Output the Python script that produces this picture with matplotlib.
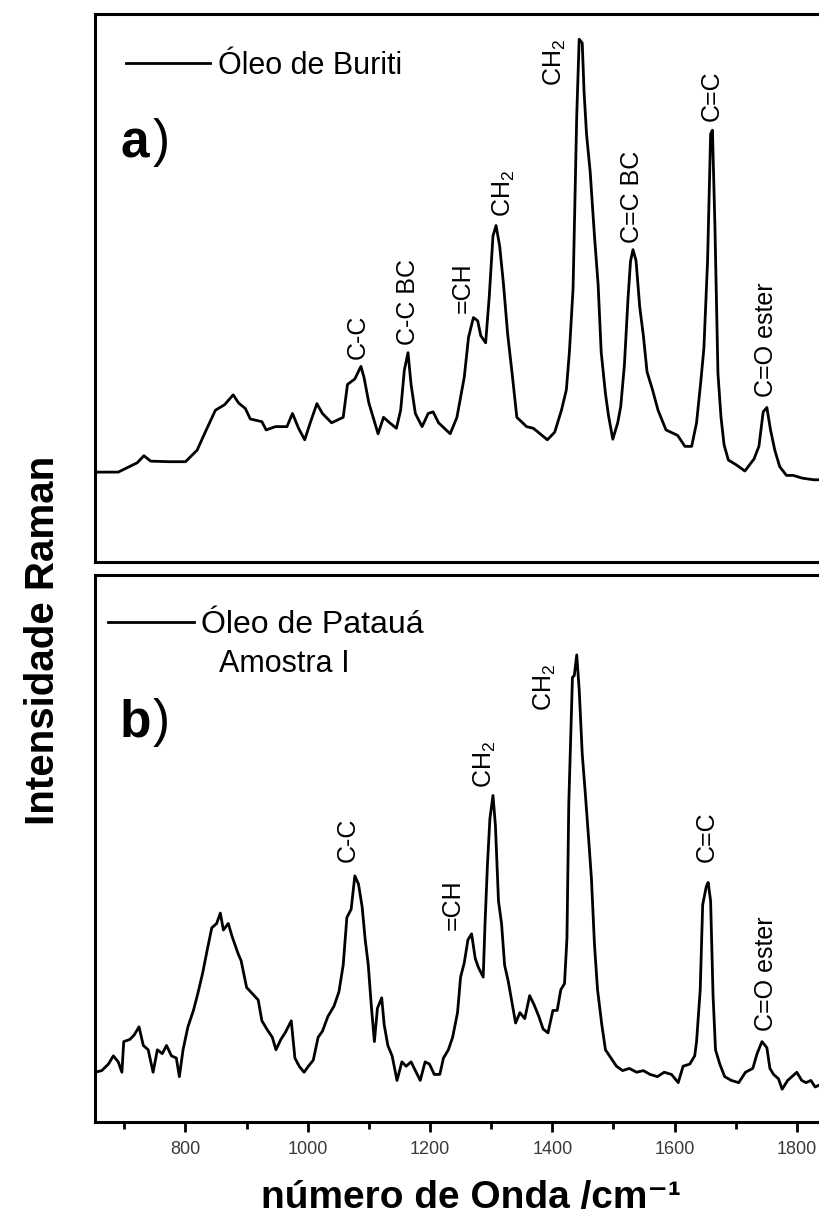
import matplotlib
matplotlib.use("Agg")
import matplotlib.pyplot as plt
from matplotlib.ticker import MultipleLocator

plt.rcParams['font.family'] = ['Liberation Sans', 'DejaVu Sans']
plt.rcParams['mathtext.fontset'] = 'custom'
plt.rcParams['mathtext.rm'] = 'Liberation Sans'

# Raman spectrum, Buriti oil (wavenumber in cm-1, intensity in a.u.)
wn_buriti = [652, 690, 721, 732, 743, 773, 800, 819, 834, 849, 864, 878, 887, 898, 906,
             925, 932, 947, 966, 975, 985, 995, 1005, 1015, 1024, 1039, 1058, 1065, 1077,
             1087, 1092, 1100, 1107, 1115, 1124, 1134, 1145, 1152, 1158, 1164, 1169, 1176,
             1187, 1197, 1205, 1214, 1233, 1244, 1256, 1263, 1271, 1278, 1283, 1291, 1297,
             1303, 1308, 1314, 1320, 1327, 1335, 1342, 1358, 1369, 1380, 1392, 1404, 1415,
             1423, 1428, 1434, 1440, 1444, 1449, 1452, 1456, 1462, 1469, 1475, 1480, 1487,
             1492, 1499, 1507, 1512, 1518, 1524, 1528, 1532, 1537, 1543, 1549, 1555, 1564,
             1573, 1586, 1605, 1617, 1628, 1636, 1643, 1648, 1654, 1659, 1662, 1666, 1671,
             1676, 1681, 1688, 1700, 1715, 1730, 1738, 1745, 1751, 1757, 1764, 1772, 1783,
             1794, 1809, 1828, 1845]
int_buriti = [16.4, 16.4, 18.1, 19.4, 18.4, 18.3, 18.3, 20.4, 24.1, 27.7, 28.7, 30.5, 29.0,
              28.0, 26.1, 25.6, 24.1, 24.7, 24.7, 27.1, 24.4, 22.3, 25.7, 28.9, 27.1, 25.4,
              26.4, 32.4, 33.4, 35.7, 33.7, 29.0, 26.4, 23.4, 26.4, 25.4, 24.4, 27.7, 35.0,
              38.2, 32.4, 27.1, 24.7, 27.1, 27.4, 25.4, 23.4, 26.4, 33.7, 41.0, 44.6, 44.0,
              41.3, 40.0, 48.6, 59.5, 61.4, 57.6, 50.9, 41.6, 33.7, 26.4, 24.7, 24.4, 23.4,
              22.3, 23.7, 27.7, 31.4, 38.3, 49.9, 81.4, 95.4, 94.7, 85.8, 78.1, 71.2, 59.5,
              50.6, 38.3, 30.7, 26.7, 22.4, 25.4, 28.4, 36.0, 48.3, 54.9, 57.0, 55.0, 46.6,
              41.3, 34.7, 31.4, 27.7, 24.1, 23.1, 21.1, 21.1, 25.4, 33.0, 39.0, 54.9, 78.1,
              78.8, 61.5, 34.4, 26.4, 21.4, 18.6, 17.8, 16.6, 18.8, 21.1, 27.4, 28.2, 24.1,
              20.4, 17.4, 15.8, 15.8, 15.3, 15.0, 15.0]

# Raman spectrum, Patauá oil (sample I)
wn_pataua = [652, 663, 674, 682, 690, 696, 699, 709, 716, 724, 731, 739, 747, 754, 762, 769,
             777, 785, 790, 796, 804, 813, 820, 828, 836, 843, 851, 857, 862, 870, 876, 886,
             891, 900, 910, 919, 925, 933, 942, 948, 956, 963, 973, 979, 986, 994, 1001, 1009,
             1017, 1024, 1033, 1043, 1051, 1058, 1064, 1071, 1077, 1083, 1089, 1094, 1099,
             1104, 1109, 1114, 1121, 1125, 1131, 1138, 1146, 1154, 1161, 1169, 1176, 1184,
             1192, 1199, 1207, 1216, 1222, 1230, 1237, 1245, 1250, 1256, 1262, 1268, 1274,
             1279, 1287, 1290, 1294, 1298, 1303, 1307, 1312, 1317, 1322, 1328, 1334, 1340,
             1347, 1355, 1363, 1370, 1378, 1385, 1393, 1401, 1408, 1414, 1420, 1424, 1427,
             1433, 1436, 1440, 1444, 1449, 1454, 1459, 1464, 1469, 1474, 1481, 1487, 1496,
             1505, 1515, 1526, 1538, 1549, 1560, 1572, 1583, 1595, 1606, 1614, 1625, 1633,
             1636, 1642, 1646, 1652, 1655, 1659, 1663, 1667, 1674, 1682, 1693, 1705, 1716,
             1728, 1735, 1743, 1751, 1756, 1762, 1770, 1776, 1785, 1792, 1800, 1808, 1815,
             1823, 1830, 1845]
int_pataua = [9.1, 9.4, 10.6, 12.1, 11.0, 9.1, 14.7, 15.1, 15.9, 17.4, 14.0, 13.2, 9.1, 13.2,
              12.5, 14.0, 12.1, 11.7, 8.3, 13.2, 17.4, 20.4, 23.4, 27.2, 31.7, 35.5, 36.3,
              38.2, 35.1, 36.3, 34.0, 30.8, 29.5, 24.6, 23.4, 22.3, 18.5, 17.0, 15.5, 13.2,
              15.1, 16.3, 18.5, 11.7, 10.2, 9.1, 10.2, 11.3, 15.5, 16.6, 19.3, 21.2, 23.8,
              28.7, 37.4, 38.9, 45.0, 43.5, 39.3, 33.3, 28.7, 21.2, 14.7, 20.8, 22.7, 17.8,
              14.0, 12.1, 7.6, 11.0, 10.2, 11.0, 9.4, 7.6, 11.0, 10.6, 8.7, 8.7, 11.7, 13.2,
              15.5, 20.0, 26.5, 29.1, 33.3, 34.4, 29.9, 28.3, 26.5, 36.3, 47.2, 55.5, 59.7,
              54.2, 40.4, 36.3, 28.7, 25.7, 21.9, 18.1, 20.0, 18.9, 23.1, 21.5, 19.3, 17.0,
              16.3, 20.4, 20.4, 24.2, 25.3, 33.6, 58.2, 81.3, 81.6, 85.4, 79.1, 67.3, 60.1,
              52.5, 44.6, 32.5, 24.2, 17.8, 13.2, 11.7, 10.2, 9.4, 9.8, 9.1, 9.4, 8.7, 8.3,
              9.1, 8.7, 7.2, 10.2, 10.6, 12.1, 14.7, 24.2, 39.7, 43.1, 43.8, 40.4, 23.1,
              13.2, 10.6, 8.3, 7.6, 7.2, 9.1, 9.8, 12.5, 14.7, 13.6, 9.8, 8.7, 7.9, 6.0, 7.6,
              8.3, 9.1, 7.6, 7.2, 7.6, 6.4, 7.2]

CH2 = r"CH$_\mathregular{2}$"

# band assignments
bands_a = ["C-C", "C-C BC", "=CH", CH2, CH2, "C=C BC", "C=C", "C=O ester"]
bands_a_wn = [1081, 1164, 1253, 1321, 1404, 1530, 1661, 1750]
bands_b = ["C-C", "=CH", CH2, CH2, "C=C", "C=O ester"]
bands_b_wn = [1065, 1238, 1290, 1388, 1652, 1750]

# label heights above the peaks
lab_y_a = [37.0, 39.6, 45.4, 62.9, 86.8, 58.2, 80.5, 30.1]
lab_y_b = [47.6, 35.1, 61.0, 75.1, 47.6, 16.6]

xlim = (652, 1845)

fig = plt.figure(figsize=(8.19, 12.18), dpi=100)
ax_a = fig.add_axes([0.116, 0.5386, 0.8905, 0.4499])
ax_b = fig.add_axes([0.116, 0.0788, 0.8905, 0.4491])

ax_a.plot(wn_buriti, int_buriti, color='black', lw=2.0, label="Óleo de Buriti")
ax_b.plot(wn_pataua, int_pataua, color='black', lw=2.0, label="Óleo de Patauá")

for ax in (ax_a, ax_b):
    ax.set_xlim(*xlim)
    ax.set_ylim(0, 100)
    ax.set_yticks([])
    for sp in ax.spines.values():
        sp.set_linewidth(2.2)

ax_a.set_xticks([])

ax_b.xaxis.set_major_locator(MultipleLocator(200))
ax_b.xaxis.set_minor_locator(MultipleLocator(100))
ax_b.tick_params(axis='x', which='major', direction='out', length=7.2, width=2.0,
                 labelsize=13, pad=6.5, labelcolor='#3a3a3a')
ax_b.tick_params(axis='x', which='minor', direction='out', length=5.0, width=2.0)

for name, x, y in zip(bands_a, bands_a_wn, lab_y_a):
    ax_a.text(x, y, name, rotation=90, ha='center', va='bottom', fontsize=18)
for name, x, y in zip(bands_b, bands_b_wn, lab_y_b):
    ax_b.text(x, y, name, rotation=90, ha='center', va='bottom', fontsize=18)

ax_a.legend(loc='center left', bbox_to_anchor=(0.0425, 0.905), frameon=False,
            borderpad=0, borderaxespad=0, handlelength=2.75, handletextpad=0.26,
            fontsize=22)
ax_b.legend(loc='center left', bbox_to_anchor=(0.0174, 0.9086), frameon=False,
            borderpad=0, borderaxespad=0, handlelength=2.7, handletextpad=0.22,
            fontsize=23)
ax_b.text(0.170, 0.837, "Amostra I", transform=ax_b.transAxes, ha='left', va='center',
          fontsize=22)

# panel letters
ax_a.text(0.0343, 0.739, "a", transform=ax_a.transAxes, fontsize=37, fontweight='bold',
          va='baseline', ha='left')
ax_a.text(0.0795, 0.7655, ")", transform=ax_a.transAxes, fontsize=37, va='center', ha='left')
ax_b.text(0.0343, 0.704, "b", transform=ax_b.transAxes, fontsize=37, fontweight='bold',
          va='baseline', ha='left')
ax_b.text(0.0795, 0.731, ")", transform=ax_b.transAxes, fontsize=37, va='center', ha='left')

fig.text(0.052, 0.4745, "Intensidade Raman", rotation=90, ha='center', va='center',
         fontsize=29, fontweight='bold')
fig.text(0.575, 0.0085, "número de Onda /cm⁻¹", ha='center', va='baseline',
         fontsize=28, fontweight='bold')

fig.savefig('out.png', dpi=100)
